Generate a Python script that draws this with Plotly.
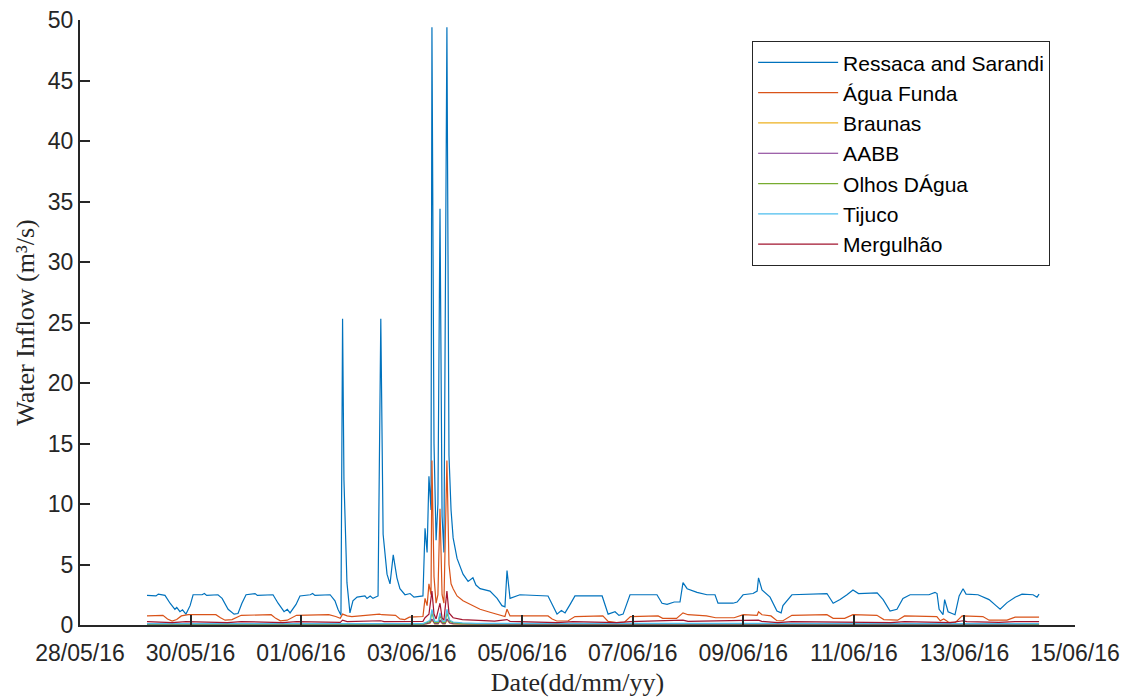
import pandas as pd
import plotly.graph_objects as go

START = pd.Timestamp("2016-05-28 00:00")

# ---- Ressaca and Sarandi (hours since 28/05/16 00:00, m³/s)
ress_h = [29.1, 33, 34, 36.9, 39.1, 41.2, 42, 43.4, 44.5, 46.0, 47.8, 49.1, 53, 54, 55, 59.9,
          61.7, 64.3, 66.9, 68.6, 70.3, 72.1, 76, 77, 83.8, 86.0, 88.6, 90, 91.2, 93.8, 95.5,
          100, 101, 102, 108.6, 110.7, 112, 113.3, 114.0, 114.6, 115.9, 117.2, 118.5, 120.3,
          123.7, 124.6, 126, 127.2, 129.4, 130.6, 131.6, 133.3, 134.6, 136.0, 137.6, 138.9,
          141.1, 143.3, 145, 148.9, 149.8, 150.7, 151.5, 152.4, 152.8, 153.7, 154.6, 155.4,
          156.3, 157.2, 158.0, 159.3, 160.2, 161.1, 162.0, 163.7, 166.3, 168.5, 170.6, 171.9,
          173.7, 178.0, 181.1, 183.2, 184.5, 185.4, 186.7, 191.0, 203.2, 206.2, 207.1, 209,
          210.6, 212.8, 214.9, 226.7, 229.3, 232.3, 234, 235.8, 238.8, 250.5, 252.7, 254.9,
          258, 260.5, 261.8, 263.6, 267.9, 272.2, 275.7, 277.0, 283.5, 285.3, 287.9, 292.2,
          294.0, 294.6, 296.1, 299.6, 302.6, 304.4, 305.2, 309.1, 324.3, 327.0, 330.0, 333.0,
          335.6, 338, 346.1, 348.7, 351.7, 354.7, 357.3, 360.4, 368.6, 371.2, 372.1, 373.0,
          374.7, 375.4, 376.9, 379.9, 381.7, 383.4, 384.7, 389.9, 394.7, 397.7, 399.5, 402.5,
          406.0, 409.0, 413.8, 415.5, 416.4]
ress_v = [2.45, 2.4, 2.55, 2.45, 1.8, 1.3, 1.45, 1.1, 1.25, 0.9, 1.6, 2.5, 2.5, 2.6, 2.45, 2.5,
          2.2, 1.3, 0.9, 0.95, 1.8, 2.5, 2.6, 2.45, 2.5, 1.8, 1.1, 1.3, 1.0, 1.7, 2.4,
          2.5, 2.6, 2.45, 2.5, 2.0, 1.3, 0.8, 25.3, 12, 3.5, 1.0, 2.0, 2.3,
          2.4, 2.2, 2.4, 2.2, 2.4, 25.3, 7.5, 4.2, 3.4, 5.8, 3.9, 3.0,
          2.5, 2.6, 2.3, 2.4, 8.0, 6.0, 12.3, 9.5, 49.4, 15, 7.0, 10,
          34.4, 9, 6.0, 49.4, 14, 9.5, 7.2, 5.5, 4.2, 3.6, 3.9, 3.3,
          3.0, 2.8, 2.2, 1.6, 1.5, 4.5, 2.2, 2.5, 2.4, 1.2, 0.9, 1.2,
          1.0, 1.7, 2.4, 2.4, 0.9, 1.1, 0.8, 0.9, 2.5, 2.5, 1.8, 1.7,
          1.9, 1.9, 3.5, 3.0, 2.7, 2.5, 2.5, 1.8, 1.8, 1.9, 2.5, 2.6,
          2.8, 3.9, 2.9, 2.3, 1.15, 1.0, 1.6, 2.5, 2.6, 1.8, 2.1, 2.5,
          2.9, 2.6, 2.65, 2.1, 1.15, 1.3, 2.2, 2.5, 2.5, 2.7, 2.6, 1.3,
          0.85, 2.1, 1.1, 0.85, 2.4, 3.0, 2.55, 2.5, 2.1, 1.6, 1.3, 1.85,
          2.3, 2.55, 2.5, 2.3, 2.55]

# ---- Água Funda
agua_h = [29.1, 36, 38, 40, 42, 44, 47, 59, 61, 63, 66, 70, 83, 85, 87, 90, 94, 108, 111, 113,
          114, 116, 118, 125, 130, 131, 137, 138.9, 141, 143, 148.9, 149.8, 150.7, 151.5, 152.4,
          152.8, 153.7, 154.6, 155.4, 156.3, 157.2, 158.0, 159.3, 160.2, 161.1, 162.0, 163.7,
          166.3, 170.6, 173.7, 178.0, 181.1, 183.2, 184.5, 185.4, 186.7, 203.2, 205, 207, 212,
          214.9, 227, 229.3, 233, 236.5, 239, 251, 253, 259, 261.8, 264, 272, 276, 284, 288, 294,
          294.6, 296.1, 300, 302.6, 305.2, 309.1, 324.3, 327, 332, 335.6, 346, 349, 355, 358,
          372, 373.5, 375, 377, 380, 383, 392, 394.7, 402.5, 406, 416.4]
agua_v = [0.75, 0.8, 0.5, 0.33, 0.45, 0.75, 0.85, 0.85, 0.6, 0.4, 0.45, 0.8, 0.85, 0.55, 0.35,
          0.4, 0.8, 0.85, 0.7, 0.55, 0.9, 0.75, 0.7, 0.85, 0.9, 0.85, 0.8, 0.5, 0.45, 0.65, 0.7,
          2.2, 1.6, 3.4, 2.5, 13.6, 4, 1.8, 2.5, 9.6, 2.5, 1.8, 13.6, 5, 3.4, 3.0, 2.4,
          2.0, 1.6, 1.3, 1.05, 0.9, 0.75, 0.7, 1.3, 0.75, 0.75, 0.5, 0.33, 0.35,
          0.7, 0.75, 0.3, 0.2, 0.25, 0.7, 0.75, 0.55, 0.55, 1.0, 0.85, 0.75, 0.6, 0.6, 0.85, 0.8,
          1.1, 0.85, 0.75, 0.35, 0.35, 0.8, 0.85, 0.55, 0.55, 0.85, 0.8, 0.45, 0.4, 0.75,
          0.7, 0.35, 0.5, 0.25, 0.2, 0.75, 0.7, 0.4, 0.4, 0.65, 0.65]

# ---- Small catchments (shared time stamps)
small_h = [29.1, 148.9, 150.5, 152.0, 152.8, 154.0, 155.5, 156.3, 157.5, 158.5, 159.3, 160.5,
           162, 166, 172, 416.4]
braunas_v = [0.04, 0.04, 0.1, 0.15, 0.4, 0.1, 0.1, 0.3, 0.1, 0.1, 0.4, 0.15, 0.1, 0.06, 0.05, 0.04]
aabb_v = [0.05, 0.05, 0.12, 0.2, 0.5, 0.12, 0.12, 0.4, 0.12, 0.12, 0.5, 0.18, 0.12, 0.08, 0.06, 0.05]
olhos_v = [0.08, 0.08, 0.2, 0.3, 1.0, 0.2, 0.2, 0.8, 0.2, 0.2, 1.0, 0.3, 0.2, 0.12, 0.1, 0.08]
tijuco_v = [0.12, 0.12, 0.25, 0.4, 1.3, 0.3, 0.3, 1.0, 0.3, 0.3, 1.3, 0.4, 0.25, 0.18, 0.14, 0.12]

# ---- Mergulhão
merg_h = [29.1, 40, 46, 64, 70, 88, 94, 113, 114, 116, 130.6, 132, 148.9, 149.8, 151.5, 152.8,
          153.7, 154.6, 156.3, 157.2, 158.0, 159.3, 160.2, 162, 166, 172, 180, 185.4, 186.7,
          207, 214, 233, 239, 261.8, 264, 294.6, 296, 303, 309, 352, 358, 378, 383.4, 385,
          399, 406, 416.4]
merg_v = [0.28, 0.2, 0.28, 0.2, 0.28, 0.2, 0.28, 0.22, 0.4, 0.28, 0.35, 0.28, 0.3, 0.6, 0.9, 2.8,
          0.9, 0.5, 1.8, 0.6, 0.4, 2.8, 1.0, 0.6, 0.45, 0.38, 0.32, 0.45, 0.3,
          0.2, 0.28, 0.2, 0.28, 0.4, 0.3, 0.4, 0.3, 0.2, 0.28, 0.2, 0.28, 0.2, 0.35, 0.28,
          0.22, 0.28, 0.28]

tick_dates = ["2016-05-28", "2016-05-30", "2016-06-01", "2016-06-03", "2016-06-05",
              "2016-06-07", "2016-06-09", "2016-06-11", "2016-06-13", "2016-06-15"]


def to_time(hours):
    return START + pd.to_timedelta(hours, unit="h")


series = [
    ("Ressaca and Sarandi", ress_h, ress_v, "#0072BD"),
    ("Água Funda", agua_h, agua_v, "#D95319"),
    ("Braunas", small_h, braunas_v, "#EDB120"),
    ("AABB", small_h, aabb_v, "#7E2F8E"),
    ("Olhos DÁgua", small_h, olhos_v, "#77AC30"),
    ("Tijuco", small_h, tijuco_v, "#4DBEEE"),
    ("Mergulhão", merg_h, merg_v, "#A2142F"),
]

fig = go.Figure()
for name, h, v, c in series:
    fig.add_trace(go.Scatter(x=to_time(h), y=v, mode="lines", name=name,
                             line=dict(color=c, width=1.2)))

axis_font = dict(family="Arial, Liberation Sans, sans-serif", size=23, color="#262626")
title_font = dict(family="Times New Roman, Liberation Serif, serif", size=26, color="#262626")

# page has an 8px body margin, so the figure is sized 1120x692
fig.update_layout(
    width=1120, height=692,
    margin=dict(l=72, r=53, t=12, b=75),
    plot_bgcolor="white", paper_bgcolor="white",
    showlegend=True,
    legend=dict(x=0.6755, y=0.965, xanchor="left", yanchor="top",
                bgcolor="white", bordercolor="#262626", borderwidth=1,
                font=dict(family="Arial, Liberation Sans, sans-serif", size=21, color="#000000"),
                itemwidth=80, tracegroupgap=0),
)
fig.update_xaxes(
    type="date", automargin=False,
    range=["2016-05-28", "2016-06-15"],
    tickvals=tick_dates, tickformat="%d/%m/%y",
    ticks="inside", ticklen=10, tickwidth=1.5, tickcolor="#262626",
    ticklabelstandoff=6, ticklabeloverflow="allow",
    showline=True, linewidth=2, linecolor="#262626",
    showgrid=False, zeroline=False, mirror=False,
    tickfont=axis_font,
    title=dict(text="Date(dd/mm/yy)", font=title_font, standoff=8),
)
fig.update_yaxes(
    range=[0, 50], dtick=5, tick0=0, automargin=False,
    ticks="inside", ticklen=10, tickwidth=1.5, tickcolor="#262626",
    ticklabeloverflow="allow",
    showline=True, linewidth=2, linecolor="#262626",
    showgrid=False, zeroline=False, mirror=False,
    tickfont=axis_font,
    title=dict(text="Water Inflow (m³/s)", font=title_font, standoff=6),
)

fig.write_html("out.html")
